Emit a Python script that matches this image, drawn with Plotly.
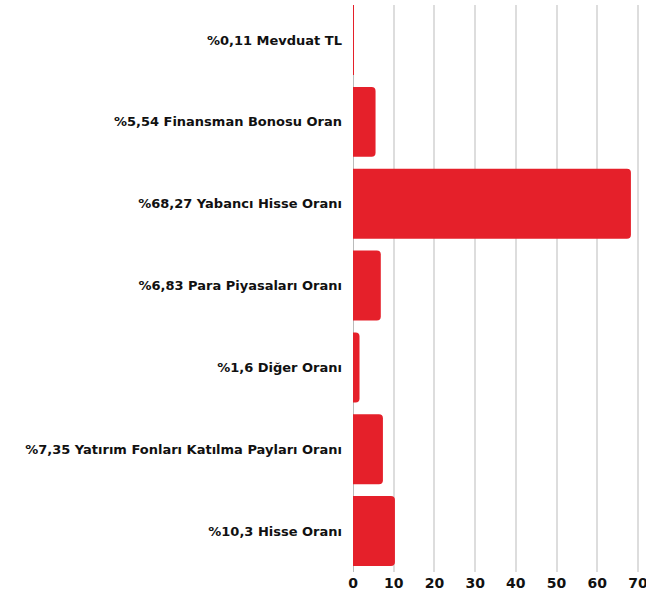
import plotly.graph_objects as go

categories = [
    "%0,11 Mevduat TL",
    "%5,54 Finansman Bonosu Oran",
    "%68,27 Yabancı Hisse Oranı",
    "%6,83 Para Piyasaları Oranı",
    "%1,6 Diğer Oranı",
    "%7,35 Yatırım Fonları Katılma Payları Oranı",
    "%10,3 Hisse Oranı",
]
values = [0.11, 5.54, 68.27, 6.83, 1.6, 7.35, 10.3]
x_ticks = [0, 10, 20, 30, 40, 50, 60, 70]

FONT = "DejaVu Sans"

fig = go.Figure(go.Bar(
    x=values, y=categories, orientation="h",
    marker=dict(color="#E5202A", cornerradius=4, line=dict(width=0)),
    width=0.855,
))
fig.update_layout(
    width=646, height=594,
    margin=dict(l=353, r=6, t=5, b=22, autoexpand=False),
    paper_bgcolor="white", plot_bgcolor="white",
    showlegend=False,
    font=dict(family=FONT, size=13, color="#111111", weight=700),
)
fig.update_xaxes(
    range=[0, 70.5], tickvals=x_ticks, showgrid=True, gridcolor="#dddddd", gridwidth=1.5,
    zeroline=True, zerolinecolor="#bbbbbb", zerolinewidth=1,
    tickfont=dict(family=FONT, size=14, color="#111111", weight=700),
    ticks="", showline=False, automargin=False, ticklabelstandoff=1,
    ticklabeloverflow="allow",
)
fig.update_yaxes(
    range=[6.5, -0.428], showgrid=False, ticks="", showline=False,
    tickfont=dict(family=FONT, size=13, color="#111111", weight=700),
    ticklabelstandoff=10, automargin=False,
)
fig.write_html("out.html", config={"displayModeBar": False},
               post_script="document.body.style.margin='0';")
